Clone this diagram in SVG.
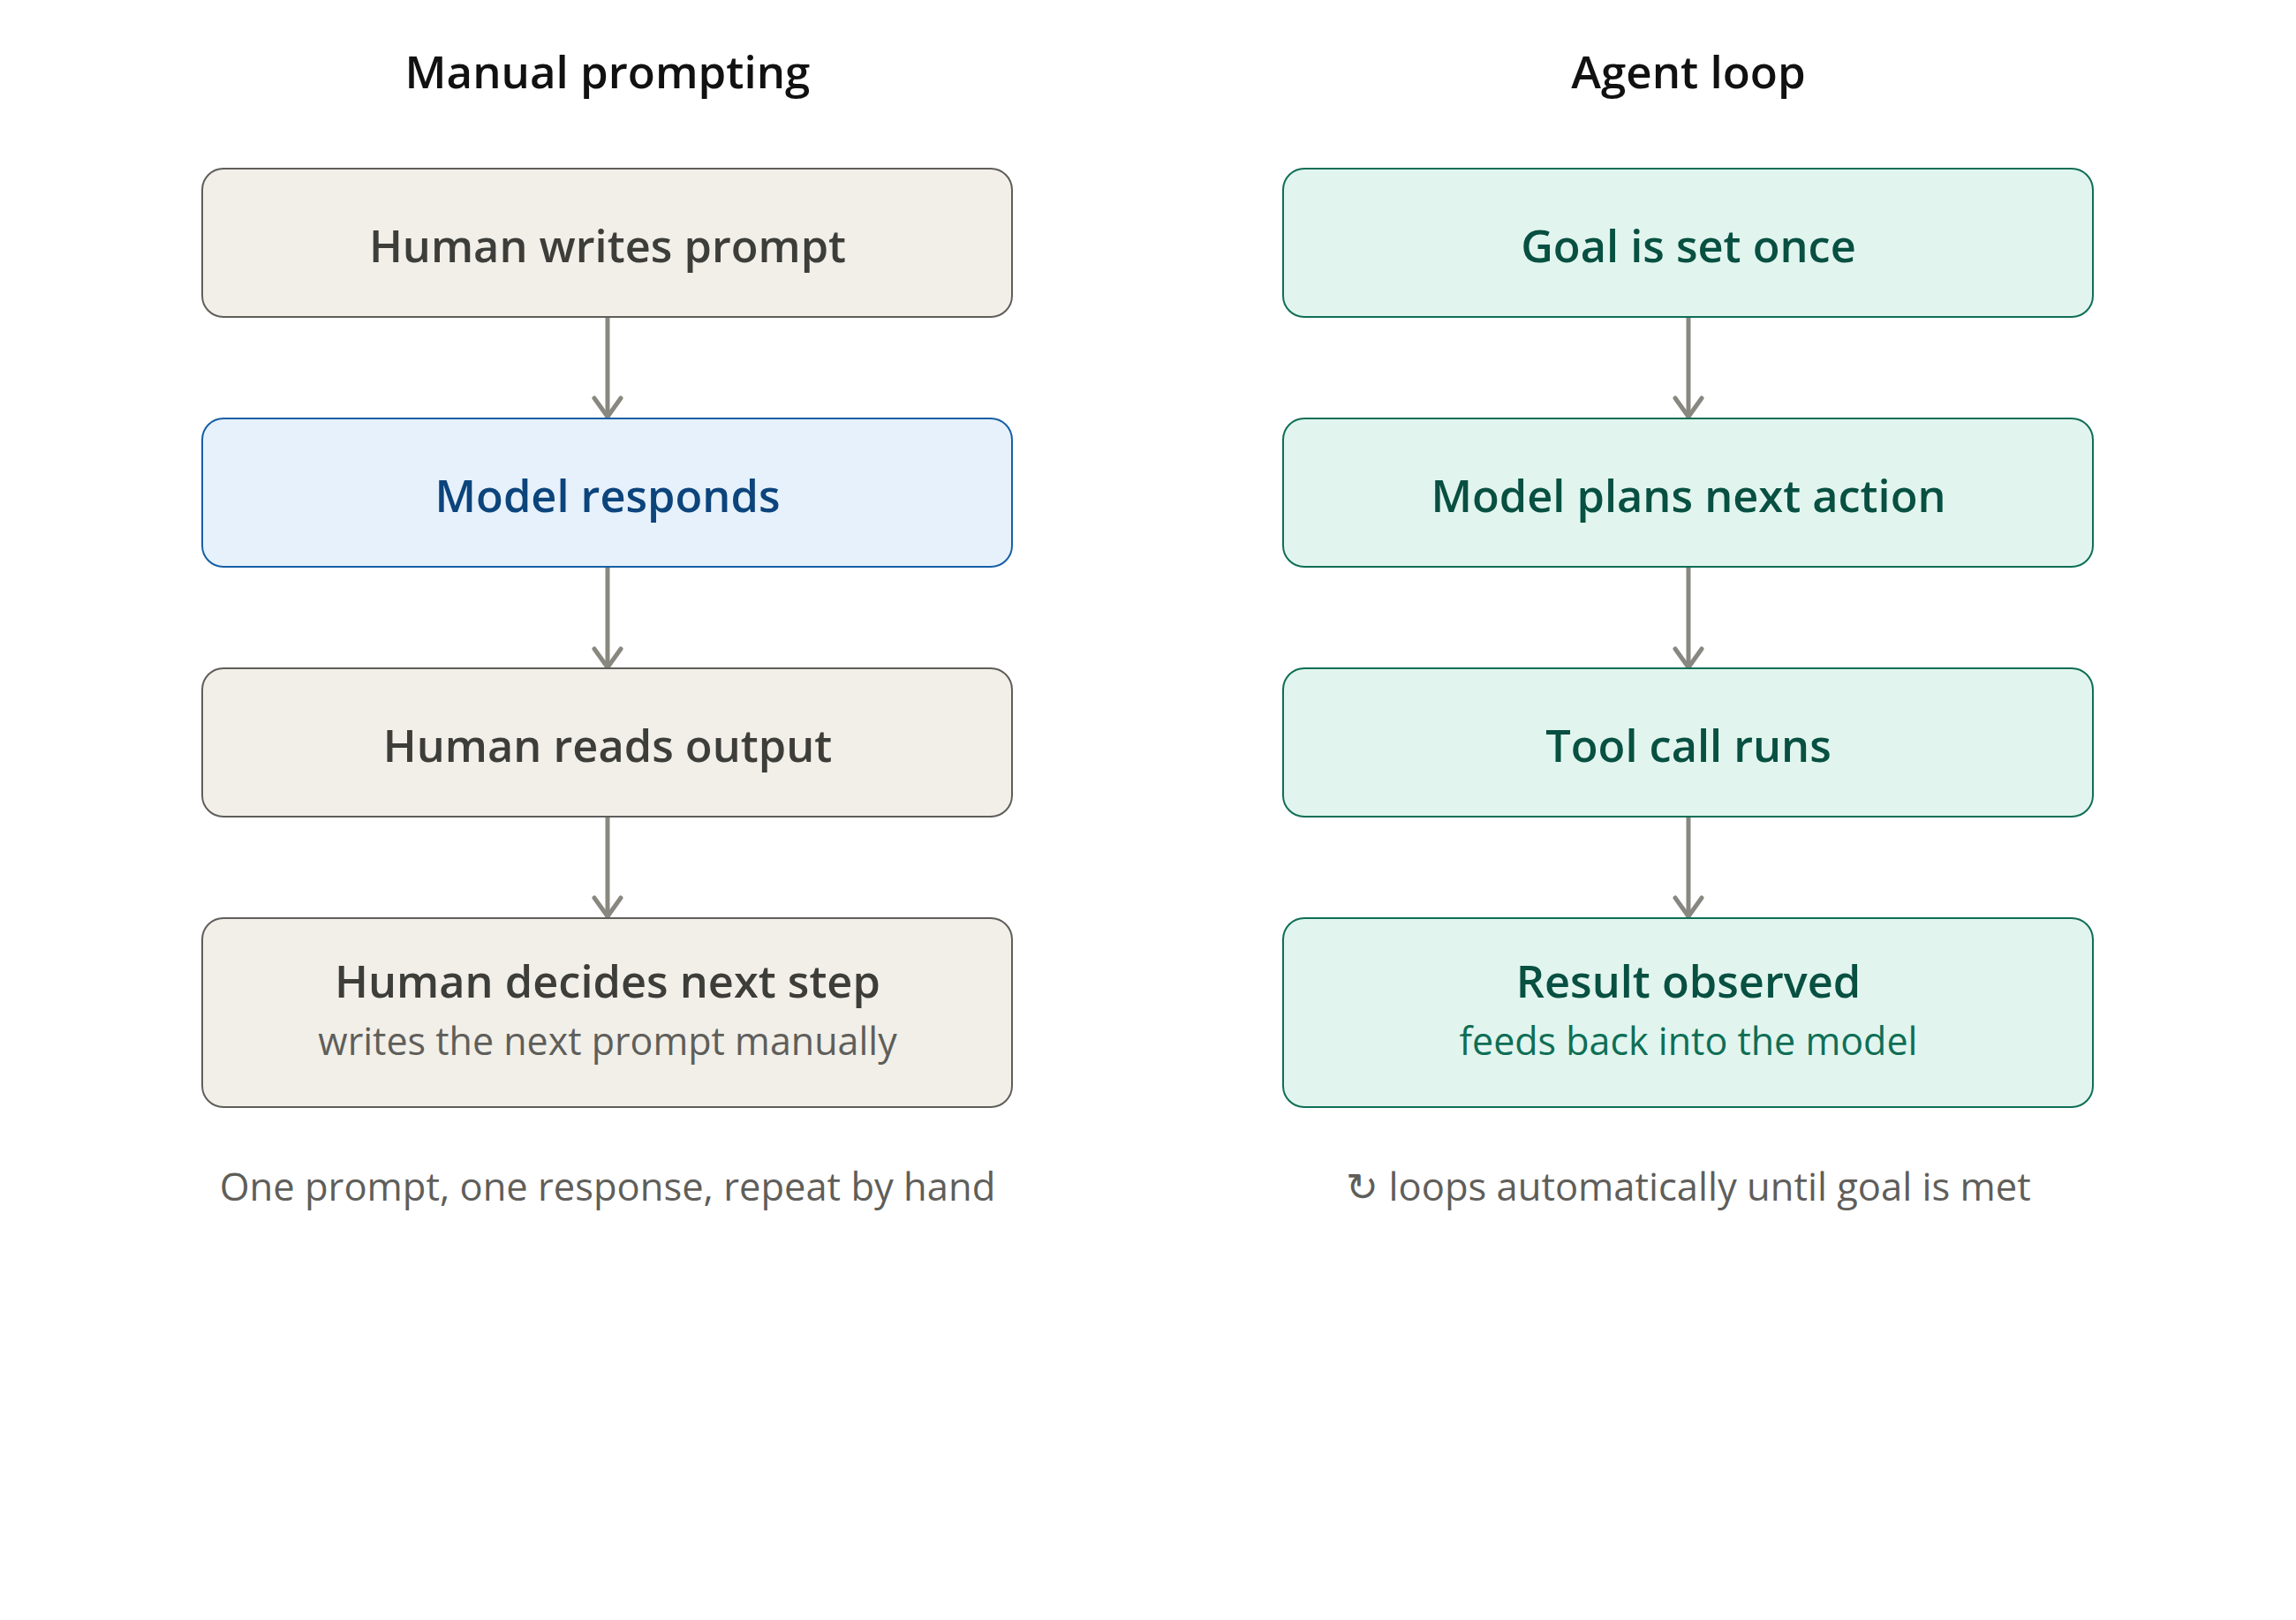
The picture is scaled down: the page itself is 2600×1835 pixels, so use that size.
<svg xmlns="http://www.w3.org/2000/svg" width="2600" height="1835" viewBox="0 0 2600 1835">
<style>
text { font-family: "Open Sans", "Noto Sans", "Liberation Sans", sans-serif; text-anchor: middle; }
.head { font-size: 51px; font-weight: 600; fill: #111111; }
.t { font-size: 50.5px; font-weight: 600; }
.s { font-size: 43px; font-weight: 400; }
.cap { font-size: 43.5px; font-weight: 400; fill: #5f5e5a; }
.gray rect { fill: #f1efe8; stroke: #5f5e5a; stroke-width: 2; }
.gray .t { fill: #3d3d3a; }
.gray .s { fill: #5f5e5a; }
.blue rect { fill: #e6f1fb; stroke: #185fa5; stroke-width: 2; }
.blue .t { fill: #0c447c; }
.green rect { fill: #e1f5ee; stroke: #0f6e56; stroke-width: 2; }
.green .t { fill: #085041; }
.green .s { fill: #0f6e56; }
.conn line, .conn polyline { stroke: #888780; stroke-width: 5; fill: none; stroke-linecap: round; stroke-linejoin: round; }
</style>
<rect width="2600" height="1835" fill="#ffffff"/>
<text class="head" x="688" y="100">Manual prompting</text>
<text class="head" x="1912" y="100">Agent loop</text>

<g id="connectors" class="conn">
  <line x1="688" y1="359" x2="688" y2="472"/>
  <polyline points="673,451 688,472 703,451"/>
  <line x1="688" y1="642" x2="688" y2="756"/>
  <polyline points="673,735 688,756 703,735"/>
  <line x1="688" y1="925" x2="688" y2="1038"/>
  <polyline points="673,1017 688,1038 703,1017"/>
  <line x1="1912" y1="359" x2="1912" y2="472"/>
  <polyline points="1897,451 1912,472 1927,451"/>
  <line x1="1912" y1="642" x2="1912" y2="756"/>
  <polyline points="1897,735 1912,756 1927,735"/>
  <line x1="1912" y1="925" x2="1912" y2="1038"/>
  <polyline points="1897,1017 1912,1038 1927,1017"/>
</g>

<g id="human-writes-prompt" class="gray">
  <rect x="229" y="191" width="917" height="168" rx="24"/>
  <text class="t" x="688" y="297">Human writes prompt</text>
</g>
<g id="model-responds" class="blue">
  <rect x="229" y="474" width="917" height="168" rx="24"/>
  <text class="t" x="688" y="580">Model responds</text>
</g>
<g id="human-reads-output" class="gray">
  <rect x="229" y="757" width="917" height="168" rx="24"/>
  <text class="t" x="688" y="863">Human reads output</text>
</g>
<g id="human-decides-next-step" class="gray">
  <rect x="229" y="1040" width="917" height="214" rx="24"/>
  <text class="t" x="688" y="1130">Human decides next step</text>
  <text class="s" x="688" y="1195">writes the next prompt manually</text>
</g>

<g id="goal-set-once" class="green">
  <rect x="1453" y="191" width="917" height="168" rx="24"/>
  <text class="t" x="1912" y="297">Goal is set once</text>
</g>
<g id="model-plans-next-action" class="green">
  <rect x="1453" y="474" width="917" height="168" rx="24"/>
  <text class="t" x="1912" y="580">Model plans next action</text>
</g>
<g id="tool-call-runs" class="green">
  <rect x="1453" y="757" width="917" height="168" rx="24"/>
  <text class="t" x="1912" y="863">Tool call runs</text>
</g>
<g id="result-observed" class="green">
  <rect x="1453" y="1040" width="917" height="214" rx="24"/>
  <text class="t" x="1912" y="1130">Result observed</text>
  <text class="s" x="1912" y="1195">feeds back into the model</text>
</g>

<text class="cap" x="688" y="1360">One prompt, one response, repeat by hand</text>
<text class="cap" x="1912" y="1360">↻ loops automatically until goal is met</text>
</svg>
